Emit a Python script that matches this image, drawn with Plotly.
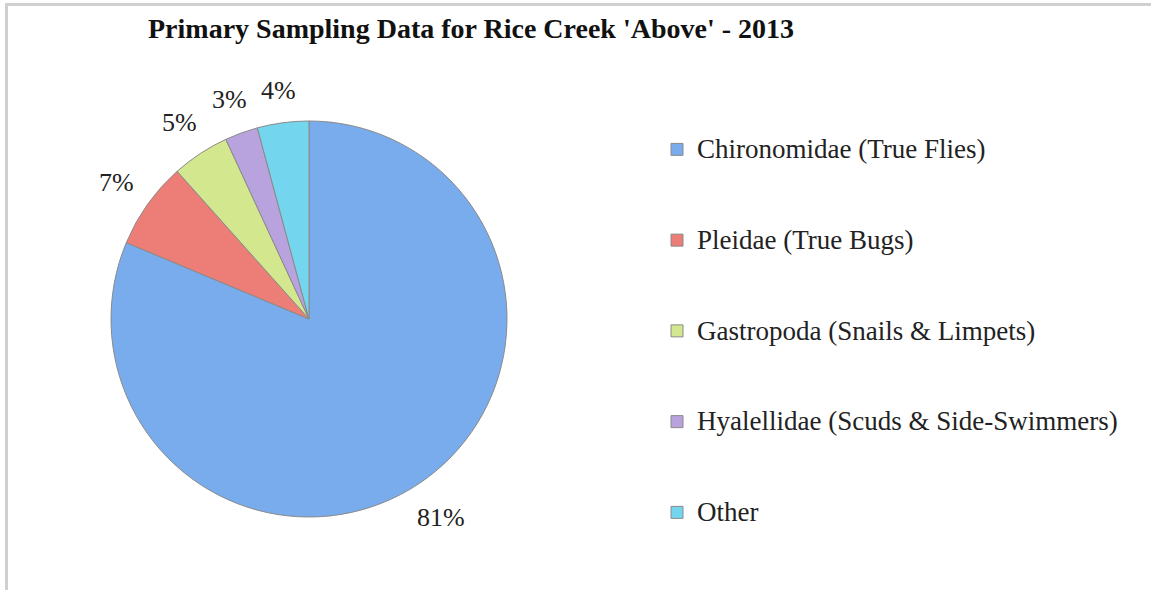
import math
import plotly.graph_objects as go

# ---- data ----
categories = [
    "Chironomidae (True Flies)",
    "Pleidae (True Bugs)",
    "Gastropoda (Snails & Limpets)",
    "Hyalellidae (Scuds & Side-Swimmers)",
    "Other",
]
values = [81.3, 7.1, 4.7, 2.7, 4.2]
colors = ["#78ACEC", "#EC7E77", "#D3E78E", "#B8A3DE", "#74D6EE"]
title_text = "Primary Sampling Data for Rice Creek 'Above' - 2013"

W, H = 1151, 590
FONT = "Liberation Serif, Times New Roman, serif"

# pie geometry (pixels)
CX, CY, R = 309, 319, 198

# legend labels padded with blank lines to reproduce the wide item spacing
legend_labels = ["<br><span style='font-size:27px'>%s</span><br>" % c for c in categories]

fig = go.Figure(
    go.Pie(
        labels=legend_labels,
        values=values,
        sort=False,
        direction="clockwise",
        rotation=0,
        marker=dict(colors=colors, line=dict(color="#8a8a8a", width=1)),
        textinfo="none",
        domain=dict(x=[(CX - R) / W, (CX + R) / W], y=[(H - CY - R) / H, (H - CY + R) / H]),
        hoverinfo="skip",
    )
)

# percentage labels placed just outside each slice's mid-angle (derived from values)
total = sum(values)
annotations = []
cum = 0.0
for v in values:
    mid = (cum + v / 2) / total * 2 * math.pi  # clockwise from 12 o'clock
    cum += v
    pct = "%d%%" % round(v / total * 100)
    s, c = math.sin(mid), math.cos(mid)
    tw = 13.0 * len(pct) + 4  # approx text width
    th = 26.0
    ext = abs(s) * tw / 2 + abs(c) * th / 2
    d = R + ext + 18
    px = CX + d * s
    py = CY - d * c
    annotations.append(dict(
        x=px / W, y=(H - py) / H, xref="paper", yref="paper",
        text=pct, showarrow=False, xanchor="center", yanchor="middle",
        font=dict(family=FONT, size=26, color="#222222"),
    ))

fig.update_layout(
    width=W,
    height=H,
    margin=dict(l=0, r=0, t=0, b=0),
    paper_bgcolor="white",
    plot_bgcolor="white",
    font=dict(family=FONT, color="#222222"),
    title=dict(
        text="<b>%s</b>" % title_text,
        x=148 / W,
        xanchor="left",
        y=1 - 28 / H,
        yanchor="middle",
        font=dict(family=FONT, size=28, color="#111111"),
    ),
    showlegend=True,
    legend=dict(
        x=657 / W,
        xanchor="left",
        y=1 - 331 / H,
        yanchor="middle",
        font=dict(family=FONT, size=22.5, color="#222222"),
        bgcolor="rgba(0,0,0,0)",
        itemclick=False,
    ),
    annotations=annotations,
    shapes=[
        dict(type="line", xref="paper", yref="paper",
             x0=5 / W, x1=1, y0=1 - 4.5 / H, y1=1 - 4.5 / H,
             line=dict(color="#d0d0d0", width=3)),
        dict(type="line", xref="paper", yref="paper",
             x0=6.5 / W, x1=6.5 / W, y0=0, y1=1 - 3 / H,
             line=dict(color="#d0d0d0", width=3)),
    ],
)

fig.write_html(
    "out.html",
    config={"displayModeBar": False},
    post_script="document.body.style.margin='0';",
)
